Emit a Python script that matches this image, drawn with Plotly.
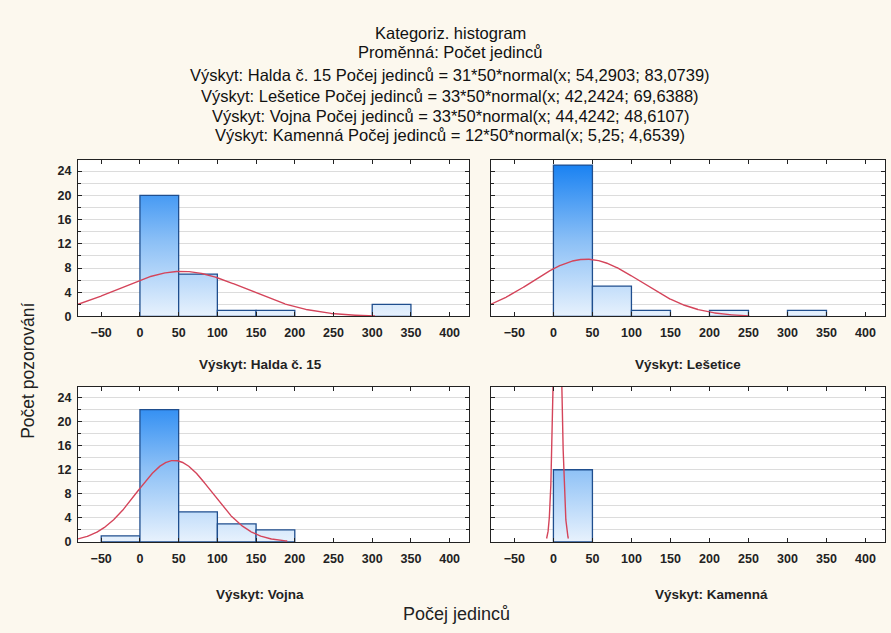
import numpy as np
import plotly.graph_objects as go

# ---- data -------------------------------------------------------------
sites = ["Halda č. 15", "Lešetice", "Vojna", "Kamenná"]
bin_edges = [-50, 0, 50, 100, 150, 200, 250, 300, 350]
# counts per 50-wide bin, bins starting at -50, 0, 50, ... 300
counts_halda = [0, 20, 7, 1, 1, 0, 0, 2]
counts_lesetice = [0, 25, 5, 1, 0, 1, 0, 1]
counts_vojna = [1, 22, 5, 3, 2, 0, 0, 0]
counts_kamenna = [0, 12, 0, 0, 0, 0, 0, 0]
counts = [counts_halda, counts_lesetice, counts_vojna, counts_kamenna]
# fitted normal: n, mean, sd
fit_n = [31, 33, 33, 12]
fit_mean = [54.2903, 42.2424, 44.4242, 5.25]
fit_sd = [83.0739, 69.6388, 48.6107, 4.6539]
bin_width = 50

x_ticks = [-50, 0, 50, 100, 150, 200, 250, 300, 350, 400]
y_ticks = [0, 4, 8, 12, 16, 20, 24]

W, H = 891, 633
BG = "#FCF8EE"
FONT = "Liberation Sans, Arial, sans-serif"
X_RANGE = [-80, 425]

def px_x(p):
    return p / W

def px_y(p):
    return 1 - p / H

# panel pixel boxes: (left, right, top, bottom)
boxes = [(78, 469, 162, 320), (491, 885, 162, 320),
         (78, 469, 391, 548), (491, 885, 391, 548)]

fig = go.Figure()

for i in range(4):
    ax = "" if i == 0 else str(i + 1)
    xa, ya = "x" + ax, "y" + ax
    # bars as filled rectangles with a vertical gradient
    for j, c in enumerate(counts[i]):
        if c <= 0:
            continue
        x0, x1 = bin_edges[j], bin_edges[j] + bin_width
        fig.add_trace(go.Scatter(
            x=[x0, x0, x1, x1, x0], y=[0, c, c, 0, 0],
            mode="lines", fill="toself",
            fillgradient=dict(type="vertical", start=0, stop=25,
                              colorscale=[[0, "#EAF3FD"], [0.5, "#8CC0F6"], [1, "#1A82F2"]]),
            line=dict(color="#1F4E8E", width=1.3),
            xaxis=xa, yaxis=ya, hoverinfo="skip", showlegend=False))
    # fitted normal curve over mean +/- 3 sd, clipped to the axis range
    n, m, s = fit_n[i], fit_mean[i], fit_sd[i]
    lo, hi = max(m - 3 * s, X_RANGE[0]), min(m + 3 * s, X_RANGE[1])
    xgrid = np.linspace(lo, hi, 800)
    yc = n * bin_width * np.exp(-0.5 * ((xgrid - m) / s) ** 2) / (s * np.sqrt(2 * np.pi))
    fig.add_trace(go.Scatter(
        x=xgrid, y=yc, mode="lines",
        line=dict(color="#D4445A", width=1.4),
        xaxis=xa, yaxis=ya, hoverinfo="skip", showlegend=False))

tick_font = dict(size=12.5, color="#222", family=FONT, weight="bold")
layout = dict(
    width=W, height=H, autosize=False,
    margin=dict(l=0, r=0, t=0, b=0),
    paper_bgcolor=BG, plot_bgcolor="white",
    font=dict(family=FONT, color="#222222"),
)
for i, (l, r, t, b) in enumerate(boxes):
    ax = "" if i == 0 else str(i + 1)
    layout["xaxis" + ax] = dict(
        domain=[px_x(l), px_x(r)], range=X_RANGE,
        tickvals=x_ticks, ticks="inside", ticklen=4, tickcolor="#222",
        showline=True, linecolor="#222", linewidth=1, mirror="ticks",
        showgrid=False, zeroline=False, layer="above traces",
        tickfont=tick_font, ticklabelstandoff=5,
        anchor="y" + ax,
    )
    layout["yaxis" + ax] = dict(
        domain=[px_y(b), px_y(t)], range=[0, 25.8],
        tickvals=y_ticks, ticks="inside", ticklen=4, tickcolor="#222",
        showticklabels=(i % 2 == 0),
        showline=True, linecolor="#222", linewidth=1, mirror="ticks",
        showgrid=True, gridcolor="#DCDCDC", gridwidth=1, zeroline=False,
        minor=dict(dtick=2, ticks="inside", ticklen=3, tickcolor="#222",
                   showgrid=True, gridcolor="#DCDCDC", gridwidth=1),
        layer="above traces",
        tickfont=tick_font, ticklabelstandoff=3,
        anchor="x" + ax,
    )
fig.update_layout(**layout)

# title block
title_lines = [
    ("Kategoriz. histogram", 33),
    ("Proměnná: Počet jedinců", 53),
    ("Výskyt: Halda č. 15 Počej jedinců = 31*50*normal(x; 54,2903; 83,0739)", 76),
    ("Výskyt: Lešetice Počej jedinců = 33*50*normal(x; 42,2424; 69,6388)", 97),
    ("Výskyt: Vojna Počej jedinců = 33*50*normal(x; 44,4242; 48,6107)", 117),
    ("Výskyt: Kamenná Počej jedinců = 12*50*normal(x; 5,25; 4,6539)", 137),
]
for text, yp in title_lines:
    fig.add_annotation(text=text, x=px_x(450), y=px_y(yp), xref="paper", yref="paper",
                       showarrow=False, xanchor="center", yanchor="middle",
                       font=dict(size=16.5, color="#111", family=FONT))

# panel captions
captions = [(f"Výskyt: {sites[0]}", 260, 369), (f"Výskyt: {sites[1]}", 688, 369),
            (f"Výskyt: {sites[2]}", 260, 601), (f"Výskyt: {sites[3]}", 711, 601)]
for text, xp, yp in captions:
    fig.add_annotation(text=text, x=px_x(xp), y=px_y(yp), xref="paper", yref="paper",
                       showarrow=False, xanchor="center", yanchor="middle",
                       font=dict(size=13.5, color="#222", family=FONT, weight="bold"))

# shared axis titles
fig.add_annotation(text="Počej jedinců", x=px_x(456), y=px_y(621), xref="paper", yref="paper",
                   showarrow=False, xanchor="center", yanchor="middle",
                   font=dict(size=18, color="#222", family=FONT))
fig.add_annotation(text="Počet pozorování", x=px_x(28), y=px_y(375), xref="paper", yref="paper",
                   showarrow=False, xanchor="center", yanchor="middle", textangle=-90,
                   font=dict(size=17.5, color="#222", family=FONT))

fig.write_html("out.html")
